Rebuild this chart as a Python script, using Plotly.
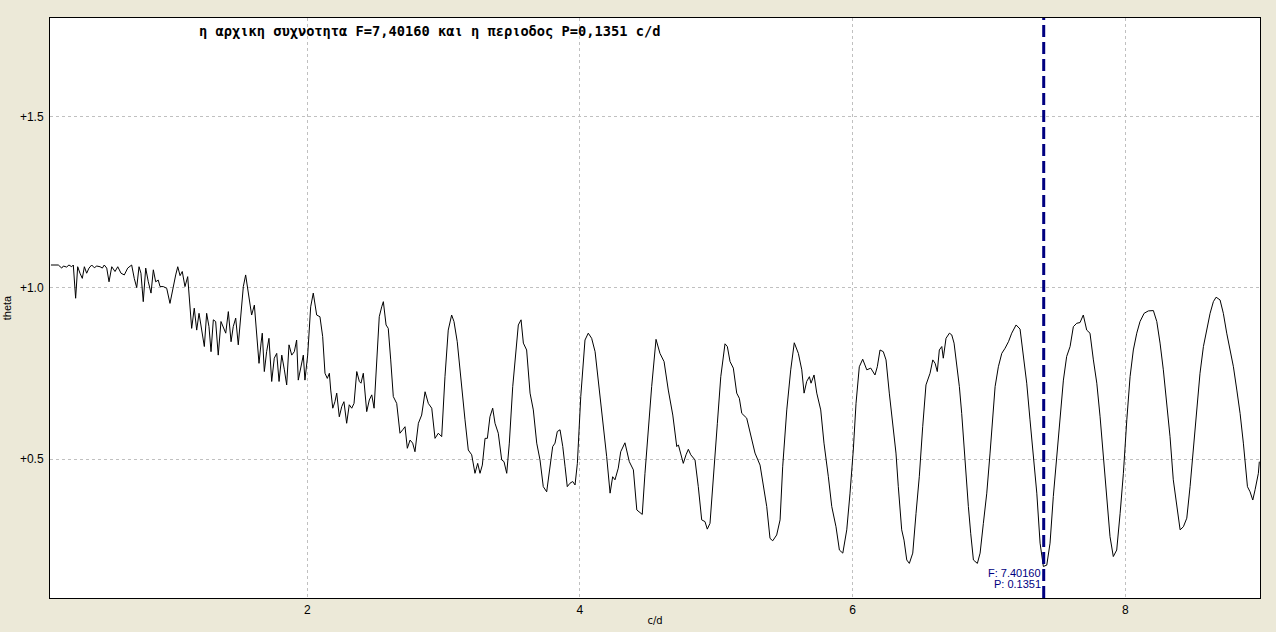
import plotly.graph_objects as go

# Frequency (c/d) and PDM theta values
freq = [0.120,0.174,0.199,0.211,0.235,0.252,0.272,0.284,0.301,0.316,0.333,0.350,0.365,0.382,0.399,0.419,0.438,0.456,0.480,0.497,
        0.511,0.529,0.546,0.566,0.590,0.610,0.634,0.658,0.683,0.712,0.731,0.749,0.766,0.780,0.797,0.815,0.834,0.854,0.871,0.888,
        0.907,0.920,0.944,0.969,0.993,1.017,1.035,1.050,1.067,1.083,1.103,1.123,1.133,1.152,1.171,1.189,1.206,1.226,1.245,1.262,
        1.279,1.294,1.311,1.328,1.347,1.367,1.384,1.402,1.421,1.441,1.457,1.475,1.494,1.514,1.531,1.548,1.563,1.580,1.592,1.612,
        1.629,1.646,1.661,1.670,1.685,1.702,1.719,1.739,1.758,1.776,1.793,1.813,1.832,1.849,1.866,1.886,1.905,1.922,1.934,1.954,
        1.971,1.983,2.003,2.025,2.044,2.069,2.093,2.113,2.130,2.147,2.162,2.172,2.187,2.203,2.216,2.235,2.253,2.269,2.289,2.308,
        2.326,2.343,2.363,2.382,2.394,2.411,2.423,2.436,2.455,2.473,2.490,2.509,2.528,2.546,2.558,2.578,2.594,2.612,2.631,2.656,
        2.680,2.700,2.717,2.734,2.754,2.773,2.790,2.815,2.839,2.864,2.888,2.913,2.937,2.961,2.986,3.010,3.034,3.059,3.076,3.100,
        3.133,3.157,3.181,3.206,3.230,3.250,3.267,3.284,3.304,3.321,3.340,3.360,3.377,3.401,3.426,3.443,3.463,3.482,3.507,3.531,
        3.548,3.568,3.585,3.609,3.634,3.658,3.683,3.707,3.731,3.756,3.780,3.800,3.817,3.834,3.854,3.874,3.891,3.907,3.927,3.947,
        3.964,3.981,4.006,4.037,4.061,4.086,4.111,4.140,4.171,4.196,4.221,4.240,4.257,4.281,4.299,4.330,4.362,4.392,4.417,4.436,
        4.457,4.477,4.501,4.526,4.558,4.587,4.617,4.648,4.681,4.710,4.722,4.739,4.758,4.778,4.795,4.813,4.844,4.868,4.893,4.917,
        4.934,4.954,4.983,5.008,5.033,5.064,5.081,5.101,5.125,5.150,5.169,5.187,5.223,5.247,5.284,5.321,5.345,5.370,5.394,5.414,
        5.443,5.468,5.487,5.517,5.546,5.572,5.602,5.627,5.644,5.663,5.683,5.695,5.717,5.737,5.766,5.790,5.822,5.847,5.878,5.903,
        5.928,5.957,5.981,6.005,6.025,6.049,6.074,6.104,6.133,6.164,6.181,6.201,6.225,6.245,6.269,6.294,6.318,6.335,6.360,6.377,
        6.397,6.416,6.441,6.465,6.489,6.514,6.538,6.568,6.588,6.605,6.621,6.636,6.654,6.665,6.685,6.710,6.727,6.744,6.764,6.783,
        6.800,6.817,6.832,6.849,6.866,6.886,6.915,6.935,6.959,6.984,7.008,7.028,7.045,7.069,7.094,7.118,7.143,7.167,7.199,7.228,
        7.252,7.277,7.301,7.326,7.351,7.375,7.399,7.424,7.448,7.472,7.497,7.521,7.546,7.570,7.595,7.619,7.644,7.668,7.692,7.717,
        7.741,7.766,7.791,7.815,7.839,7.864,7.888,7.912,7.937,7.962,7.986,8.011,8.035,8.059,8.084,8.108,8.138,8.169,8.206,8.231,
        8.255,8.279,8.304,8.328,8.352,8.382,8.402,8.426,8.451,8.475,8.499,8.524,8.548,8.573,8.597,8.622,8.646,8.666,8.695,8.719,
        8.744,8.773,8.793,8.818,8.842,8.866,8.879,8.896,8.915,8.935,8.952,8.976,8.983]

theta = [1.067,1.067,1.058,1.064,1.061,1.067,1.062,1.067,0.970,1.062,1.043,1.028,1.062,1.043,1.058,1.067,1.059,1.064,1.062,1.058,
         1.067,1.058,1.018,1.062,1.048,1.062,1.043,1.038,1.058,1.067,1.028,1.001,1.062,1.043,0.960,1.058,1.018,0.985,1.053,1.018,
         1.023,1.004,1.004,0.999,0.955,1.009,1.038,1.062,1.036,1.048,1.004,1.033,0.989,0.882,0.941,0.877,0.926,0.877,0.829,0.926,
         0.887,0.814,0.907,0.902,0.804,0.902,0.887,0.868,0.931,0.843,0.887,0.912,0.834,0.921,1.004,1.038,0.999,0.960,0.921,0.950,
         0.873,0.780,0.839,0.868,0.756,0.814,0.853,0.727,0.795,0.809,0.727,0.804,0.761,0.717,0.834,0.804,0.814,0.848,0.731,0.775,
         0.804,0.731,0.804,0.945,0.985,0.921,0.916,0.858,0.751,0.736,0.751,0.702,0.649,0.668,0.693,0.624,0.654,0.668,0.605,0.659,
         0.649,0.663,0.756,0.727,0.722,0.751,0.702,0.639,0.673,0.688,0.649,0.770,0.916,0.945,0.960,0.892,0.882,0.790,0.683,0.663,
         0.576,0.586,0.595,0.532,0.556,0.547,0.522,0.605,0.629,0.697,0.663,0.649,0.561,0.576,0.566,0.741,0.877,0.921,0.902,0.843,
         0.702,0.615,0.527,0.513,0.459,0.488,0.459,0.483,0.561,0.561,0.624,0.649,0.605,0.576,0.498,0.493,0.459,0.547,0.712,0.819,
         0.892,0.907,0.839,0.819,0.693,0.644,0.547,0.498,0.420,0.405,0.478,0.537,0.547,0.581,0.586,0.537,0.478,0.420,0.430,0.435,
         0.425,0.488,0.683,0.848,0.868,0.853,0.814,0.712,0.615,0.508,0.401,0.449,0.440,0.474,0.522,0.548,0.493,0.469,0.352,0.347,
         0.339,0.459,0.595,0.712,0.850,0.809,0.785,0.702,0.629,0.537,0.542,0.518,0.488,0.513,0.529,0.513,0.498,0.420,0.323,0.318,
         0.296,0.313,0.459,0.605,0.741,0.837,0.829,0.785,0.766,0.693,0.678,0.634,0.620,0.581,0.518,0.483,0.420,0.362,0.269,0.262,
         0.279,0.323,0.478,0.644,0.761,0.840,0.809,0.761,0.693,0.727,0.741,0.722,0.746,0.693,0.644,0.547,0.449,0.362,0.303,0.235,
         0.226,0.294,0.401,0.527,0.663,0.770,0.792,0.761,0.766,0.746,0.770,0.819,0.814,0.790,0.693,0.605,0.518,0.420,0.294,0.264,
         0.206,0.196,0.226,0.342,0.449,0.595,0.717,0.751,0.790,0.780,0.756,0.819,0.829,0.795,0.853,0.868,0.863,0.839,0.780,0.712,
         0.634,0.537,0.440,0.362,0.284,0.206,0.196,0.226,0.313,0.401,0.518,0.634,0.712,0.770,0.809,0.824,0.843,0.868,0.892,0.880,
         0.800,0.722,0.615,0.508,0.401,0.255,0.187,0.191,0.255,0.391,0.508,0.634,0.731,0.800,0.829,0.887,0.897,0.899,0.921,0.877,
         0.868,0.790,0.722,0.624,0.508,0.401,0.274,0.216,0.235,0.342,0.459,0.615,0.741,0.819,0.868,0.902,0.926,0.933,0.934,0.902,
         0.839,0.761,0.663,0.566,0.440,0.342,0.294,0.303,0.328,0.420,0.537,0.654,0.751,0.829,0.877,0.926,0.960,0.973,0.965,0.926,
         0.868,0.809,0.770,0.702,0.634,0.547,0.498,0.420,0.405,0.381,0.411,0.459,0.493]

x_range = [0.113, 8.988]
y_range = [0.095, 1.788]
x_ticks = [2, 4, 6, 8]
x_ticktext = ["2", "4", "6", "8"]
y_ticks = [0.5, 1.0, 1.5]
y_ticktext = ["+0.5", "+1.0", "+1.5"]

best_f = 7.40160
best_p = 0.1351
title_text = "η αρχικη συχνοτητα F=7,40160 και η περιοδος P=0,1351 c/d"
BG = "#ECE9D8"

fig = go.Figure()
fig.add_trace(go.Scatter(x=freq, y=theta, mode="lines",
                         line=dict(color="black", width=1), hoverinfo="skip",
                         showlegend=False))

# vertical marker at the chosen frequency
fig.add_shape(type="line", x0=best_f, x1=best_f, xref="x", y0=0, y1=1, yref="paper",
              line=dict(color="#000080", width=3, dash="12px,5px"))

marker_font = dict(family="Liberation Sans, Arial, sans-serif", size=11, color="#000080")
fig.add_annotation(x=best_f, y=0.0, xref="x", yref="paper",
                   text=f"F: {best_f:.5f}", showarrow=False,
                   xanchor="right", yanchor="bottom", xshift=-1, yshift=17, font=marker_font)
fig.add_annotation(x=best_f, y=0.0, xref="x", yref="paper",
                   text=f"P: {best_p:.4f}", showarrow=False,
                   xanchor="right", yanchor="bottom", xshift=-1, yshift=6, font=marker_font)

fig.add_annotation(x=0.0, y=1.0, xref="paper", yref="paper", text="<b>" + title_text + "</b>",
                   showarrow=False, xanchor="left", yanchor="top", xshift=147, yshift=-3,
                   font=dict(family="DejaVu Sans Mono, monospace", size=13.7, color="black"))

axis_common = dict(showline=True, mirror=True, linecolor="black", linewidth=1,
                   showgrid=True, gridcolor="#C0C0C0", griddash="3px,3px", gridwidth=1,
                   zeroline=False, ticks="",
                   tickfont=dict(family="Liberation Sans, Arial, sans-serif", size=12, color="black"))

fig.update_xaxes(range=x_range, tickvals=x_ticks, ticktext=x_ticktext,
                 title=dict(text="c/d", font=dict(family="DejaVu Sans, sans-serif", size=10, color="black"), standoff=0),
                 ticklabelstandoff=1, **axis_common)
fig.update_yaxes(range=y_range, tickvals=y_ticks, ticktext=y_ticktext,
                 title=dict(text="theta", font=dict(family="Liberation Sans, Arial, sans-serif", size=11, color="black"), standoff=6),
                 ticklabelstandoff=3, **axis_common)

fig.update_layout(width=1276, height=632,
                  margin=dict(l=50, r=16, t=18, b=34, autoexpand=False),
                  paper_bgcolor=BG, plot_bgcolor="white",
                  showlegend=False)

fig.write_html("out.html", config={"displayModeBar": False},
               post_script="document.body.style.margin='0';document.body.style.background='%s';" % BG)
